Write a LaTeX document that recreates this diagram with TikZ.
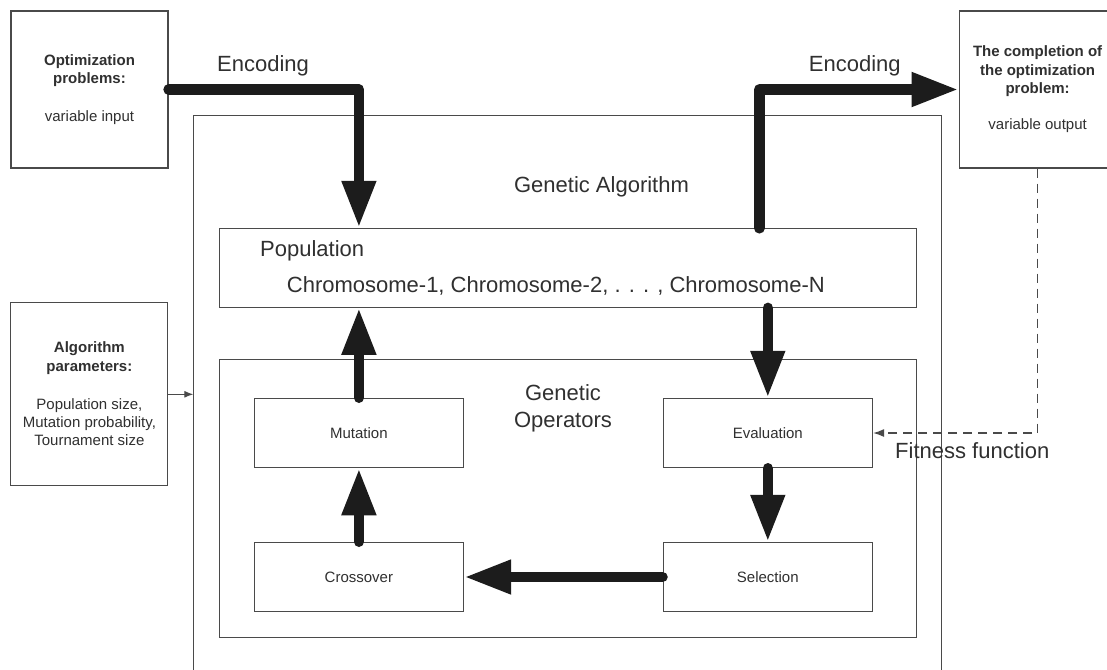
\documentclass[tikz,border=0pt]{standalone}
\usepackage{fontspec}
\setmainfont{Liberation Sans}
\usetikzlibrary{arrows.meta}
\definecolor{ink}{HTML}{1C1C1C}
\definecolor{boxline}{HTML}{4A4A4A}
\definecolor{txt}{HTML}{303030}
\begin{document}
\begin{tikzpicture}[x=1pt,y=-1pt,
  box/.style={draw=boxline, line width=1.1pt, rectangle, inner sep=0pt, align=center, text=txt},
  sidebox/.style={box, minimum width=157pt, font=\fontsize{15}{18.3}\selectfont},
  opbox/.style={box, minimum width=209.5pt, minimum height=69.4pt, font=\fontsize{15}{18}\selectfont},
  bigtext/.style={text=txt, inner sep=0pt, font=\fontsize{22}{27}\selectfont},
  fatarrow/.style={draw=ink, line width=10.5pt, line cap=round, line join=round,
    -{Triangle[length=47pt,width=32pt,fill=ink]}},
  thinarrow/.style={draw=boxline, line width=1.1pt, -{Latex[length=9pt,width=7pt]}},
  fitarrow/.style={draw=boxline, line width=1.3pt, dash pattern=on 9pt off 6pt,
    -{Latex[length=11pt,width=8pt]}}
]
\useasboundingbox (0,0) rectangle (1107,669);
\fill[white] (0,0) rectangle (1107,669);

% side boxes
\node[sidebox, minimum height=157pt] (opt) at (89.5,89.5)
  {\textbf{Optimization}\\\textbf{problems:}\\[19pt]variable input};
\node[sidebox, minimum height=157pt] (comp) at (1037.6,89.5)
  {\textbf{The completion of}\\\textbf{the optimization}\\\textbf{problem:}\\[18pt]variable output};
\node[sidebox, minimum height=183.4pt] (alg) at (89.4,394)
  {\textbf{Algorithm}\\\textbf{parameters:}\\[20pt]Population size,\\Mutation probability,\\Tournament size};

% Genetic algorithm outer frame (bottom edge lies at the image border)
\draw[boxline, line width=1.1pt] (193.3,670) -- (193.3,115.7) -- (941.7,115.7) -- (941.7,670);
\coordinate (gaL) at (193.3,394.3);
\node[bigtext, anchor=base] (galabel) at (601.5,192) {Genetic Algorithm};

% population
\node[box, minimum width=696.7pt, minimum height=79pt] (pop) at (567.7,267.8) {};
\node[bigtext, anchor=base west] (poplabel) at (260,256.7) {Population};
\node[bigtext, anchor=base west] (chrom) at (286.7,292.7) {Chromosome-1, Chromosome-2, . . . , Chromosome-N};

% genetic operators
\node[box, minimum width=696.7pt, minimum height=278pt] (go) at (567.7,498.3) {};
\node[bigtext, align=center] (golabel) at (563,408) {Genetic\\Operators};

\node[opbox] (mut) at (358.9,433) {Mutation};
\node[opbox] (cro) at (358.9,577) {Crossover};
\node[opbox] (eva) at (767.8,433) {Evaluation};
\node[opbox] (sel) at (767.8,577) {Selection};

% labels
\node[bigtext, anchor=base] (enc1) at (263,71.7) {Encoding};
\node[bigtext, anchor=base] (enc2) at (854.8,71.7) {Encoding};
\node[bigtext, anchor=base west] (fit) at (895,458) {Fitness function};

% thick arrows
\coordinate (popin) at (mut.north |- pop.north);
\coordinate (popout) at (759.3,228.3);
\draw[fatarrow] (opt.east) -| (popin);
\draw[fatarrow] (popout) |- (comp.west);
\draw[fatarrow] (eva.north |- pop.south) -- (eva.north);
\draw[fatarrow] (mut.north) -- (mut.north |- pop.south);
\draw[fatarrow] (eva.south) -- (sel.north);
\draw[fatarrow] (sel.west) -- (cro.east);
\draw[fatarrow] (cro.north) -- (mut.south);

% thin arrows
\draw[thinarrow] (alg.east |- gaL) -- (gaL);
\draw[fitarrow] (comp.south) |- (eva.east);
\end{tikzpicture}
\end{document}
